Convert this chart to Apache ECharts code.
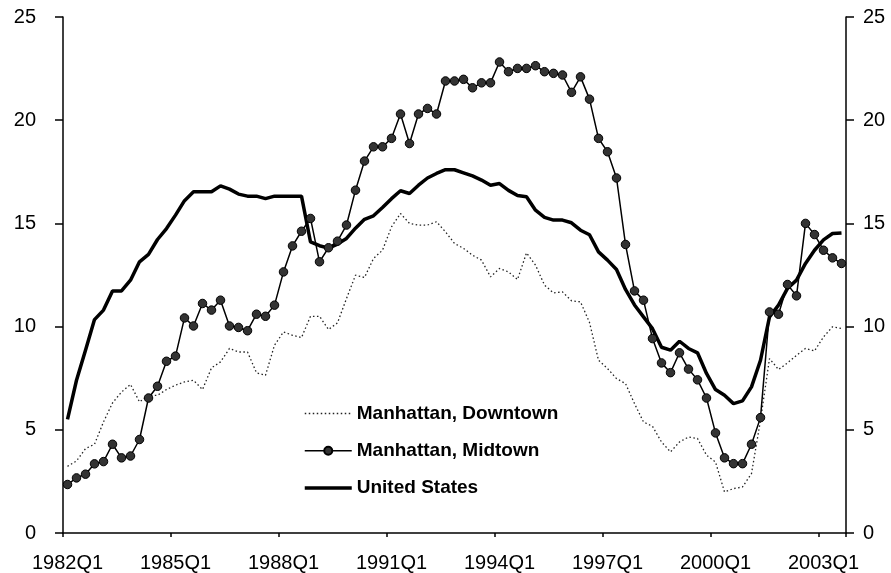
<!DOCTYPE html>
<html>
<head>
<meta charset="utf-8">
<script src="https://cdn.jsdelivr.net/npm/echarts@6/dist/echarts.min.js"></script>
<style>
  html, body { margin: 0; padding: 0; background: #fff; }
  #chart { width: 891px; height: 573px; }
</style>
</head>
<body>
<div id="chart"></div>
<script>
// ---- 数据（季度，1982Q1 – 2003Q3） ----
var quarters = [
  "1982Q1","1982Q2","1982Q3","1982Q4","1983Q1","1983Q2","1983Q3","1983Q4",
  "1984Q1","1984Q2","1984Q3","1984Q4","1985Q1","1985Q2","1985Q3","1985Q4",
  "1986Q1","1986Q2","1986Q3","1986Q4","1987Q1","1987Q2","1987Q3","1987Q4",
  "1988Q1","1988Q2","1988Q3","1988Q4","1989Q1","1989Q2","1989Q3","1989Q4",
  "1990Q1","1990Q2","1990Q3","1990Q4","1991Q1","1991Q2","1991Q3","1991Q4",
  "1992Q1","1992Q2","1992Q3","1992Q4","1993Q1","1993Q2","1993Q3","1993Q4",
  "1994Q1","1994Q2","1994Q3","1994Q4","1995Q1","1995Q2","1995Q3","1995Q4",
  "1996Q1","1996Q2","1996Q3","1996Q4","1997Q1","1997Q2","1997Q3","1997Q4",
  "1998Q1","1998Q2","1998Q3","1998Q4","1999Q1","1999Q2","1999Q3","1999Q4",
  "2000Q1","2000Q2","2000Q3","2000Q4","2001Q1","2001Q2","2001Q3","2001Q4",
  "2002Q1","2002Q2","2002Q3","2002Q4","2003Q1","2003Q2","2003Q3"
];

var downtown = [
  3.23, 3.49, 4.09, 4.3, 5.38, 6.3, 6.83, 7.2,
  6.35, 6.67, 6.67, 6.95, 7.16, 7.32, 7.4, 6.95,
  8.0, 8.29, 8.94, 8.77, 8.77, 7.76, 7.64, 9.1,
  9.74, 9.58, 9.47, 10.5, 10.5, 9.86, 10.18, 11.36,
  12.49, 12.38, 13.3, 13.7, 14.83, 15.48, 15.0, 14.92,
  14.92, 15.08, 14.59, 14.03, 13.79, 13.46, 13.22, 12.41,
  12.82, 12.65, 12.28, 13.57, 12.98, 12.01, 11.63, 11.68,
  11.25, 11.2, 10.2, 8.37, 7.97, 7.48, 7.24, 6.27,
  5.38, 5.17, 4.41, 3.93, 4.41, 4.65, 4.58, 3.77,
  3.44, 1.99, 2.15, 2.23, 2.88, 5.46, 8.45, 7.92,
  8.24, 8.61, 8.94, 8.82, 9.5, 9.99, 9.91
];

var midtown = [
  2.35, 2.67, 2.85, 3.35, 3.46, 4.3, 3.64, 3.73,
  4.53, 6.54, 7.11, 8.32, 8.57, 10.42, 10.03, 11.12,
  10.8, 11.28, 10.03, 9.96, 9.8, 10.6, 10.5, 11.04,
  12.65, 13.91, 14.62, 15.24, 13.14, 13.82, 14.14, 14.92,
  16.61, 18.02, 18.71, 18.71, 19.12, 20.3, 18.87, 20.3,
  20.57, 20.3, 21.9, 21.9, 21.98, 21.57, 21.81, 21.81,
  22.82, 22.35, 22.51, 22.51, 22.64, 22.35, 22.27, 22.19,
  21.35, 22.1, 21.02, 19.12, 18.47, 17.2, 13.98, 11.73,
  11.28, 9.42, 8.24, 7.77, 8.73, 7.94, 7.42, 6.54,
  4.85, 3.64, 3.36, 3.36, 4.3, 5.59, 10.71, 10.6,
  12.04, 11.49, 15.0, 14.46, 13.7, 13.33, 13.06
];

var unitedStates = [
  5.5, 7.4, 8.85, 10.34, 10.8, 11.73, 11.73, 12.25,
  13.14, 13.5, 14.22, 14.75, 15.4, 16.1, 16.53, 16.53,
  16.53, 16.82, 16.66, 16.42, 16.32, 16.32, 16.2, 16.32,
  16.32, 16.32, 16.32, 14.1, 13.92, 13.8, 14.0, 14.27,
  14.77, 15.2, 15.37, 15.77, 16.2, 16.58, 16.45, 16.85,
  17.2, 17.42, 17.6, 17.6, 17.45, 17.3, 17.1, 16.85,
  16.93, 16.6, 16.35, 16.29, 15.64, 15.29, 15.16, 15.16,
  15.03, 14.67, 14.45, 13.62, 13.22, 12.77, 11.8, 11.05,
  10.47, 9.9, 9.0, 8.86, 9.29, 8.94, 8.73, 7.73,
  6.95, 6.67, 6.27, 6.4, 7.08, 8.37, 10.47, 11.04,
  11.85, 12.25, 13.06, 13.7, 14.2, 14.51, 14.54
];

var yTicks = [0, 5, 10, 15, 20, 25];

var FONT = "'Liberation Sans', Arial, sans-serif";

var chart = echarts.init(document.getElementById("chart"), null, { renderer: "canvas" });

function valueAxis(pos, margin) {
  return {
    type: "value",
    position: pos,
    min: yTicks[0],
    max: yTicks[yTicks.length - 1],
    interval: 5,
    axisLine: { show: true, lineStyle: { color: "#000", width: 1.5 } },
    axisTick: { show: true, length: 8, lineStyle: { color: "#000", width: 1.5 } },
    axisLabel: { color: "#000", fontSize: 20, fontFamily: FONT, margin: margin },
    splitLine: { show: false }
  };
}

// 无标记的系列：图例里隐藏圆点，只留线
var noMarker = { color: "rgba(0,0,0,0)", borderColor: "rgba(0,0,0,0)", borderWidth: 0 };

chart.setOption({
  animation: false,
  backgroundColor: "#fff",
  grid: { left: 63, right: 45, top: 17, bottom: 40, containLabel: false, outerBoundsMode: "none" },
  legend: {
    orient: "vertical",
    left: 303,
    top: 404,
    padding: 0,
    itemWidth: 47,
    itemHeight: 10,
    itemGap: 18.3,
    textStyle: { color: "#000", fontSize: 19, fontWeight: "bold", fontFamily: FONT, lineHeight: 19 },
    data: [
      { name: "Manhattan, Downtown", itemStyle: noMarker, lineStyle: { width: 1.3 } },
      { name: "Manhattan, Midtown", lineStyle: { width: 1.5 } },
      { name: "United States", itemStyle: noMarker, lineStyle: { width: 3.5 } }
    ]
  },
  xAxis: {
    type: "category",
    data: quarters,
    boundaryGap: true,
    axisLine: { show: true, lineStyle: { color: "#000", width: 1.5 } },
    axisTick: { show: true, interval: 11, length: 4, lineStyle: { color: "#000", width: 1.5 } },
    axisLabel: { interval: 11, color: "#000", fontSize: 20, fontFamily: FONT, margin: 20 },
    splitLine: { show: false }
  },
  yAxis: [valueAxis("left", 27), valueAxis("right", 17)],
  series: [
    {
      name: "Manhattan, Downtown",
      type: "line",
      data: downtown,
      symbol: "none",
      lineStyle: { color: "#222", width: 1.3, type: [1.5, 2.5] },
      itemStyle: { color: "#222" },
      z: 1
    },
    {
      name: "United States",
      type: "line",
      data: unitedStates,
      symbol: "none",
      lineStyle: { color: "#000", width: 3.5 },
      itemStyle: { color: "#000" },
      z: 2
    },
    {
      name: "Manhattan, Midtown",
      type: "line",
      data: midtown,
      symbol: "circle",
      symbolSize: 8.5,
      showAllSymbol: true,
      lineStyle: { color: "#000", width: 1.5 },
      itemStyle: { color: "#333", borderColor: "#000", borderWidth: 1 },
      z: 3
    }
  ]
});
</script>
</body>
</html>
